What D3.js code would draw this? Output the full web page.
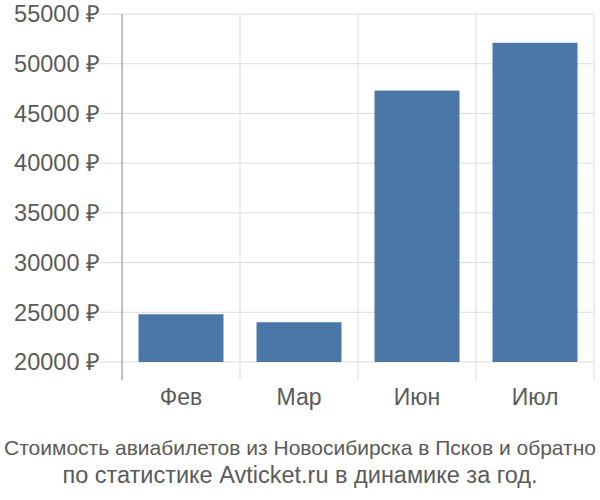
<!DOCTYPE html>
<html>
<head>
<meta charset="utf-8">
<script src="https://cdn.jsdelivr.net/npm/d3@7"></script>
<style>
  body { margin: 0; background: #fff; }
  text { font-family: "Liberation Sans", Arial, sans-serif; fill: #5a5a5a; }
</style>
</head>
<body>
<div id="chart"></div>
<script>
// price per month, rubles
var months = ["Фев", "Мар", "Июн", "Июл"];
var prices = [24800, 24000, 47300, 52100];
var yTicks = [20000, 25000, 30000, 35000, 40000, 45000, 50000, 55000];
var titleLines = [
  "Стоимость авиабилетов из Новосибирска в Псков и обратно",
  "по статистике Avticket.ru в динамике за год."
];

var width = 600, height = 500;
var margin = { top: 14, right: 6, bottom: 138, left: 122 };

var svg = d3.select("#chart")
  .append("svg")
  .attr("width", width)
  .attr("height", height);

var x = d3.scaleBand()
  .domain(months)
  .range([margin.left, width - margin.right])
  .paddingInner(0.28)
  .paddingOuter(0.14);

var y = d3.scaleLinear()
  .domain([20000, 55000])
  .range([height - margin.bottom, margin.top]);

// band edges for the vertical grid
var bandEdge = d3.scaleLinear()
  .domain([0, months.length])
  .range([margin.left, width - margin.right]);

// horizontal grid + tick labels
svg.selectAll(".hgrid")
  .data(yTicks)
  .enter()
  .append("line")
  .attr("x1", margin.left - 22)
  .attr("x2", width - margin.right)
  .attr("y1", function(d) { return y(d); })
  .attr("y2", function(d) { return y(d); })
  .attr("stroke", "#ddd")
  .attr("stroke-width", 1);

svg.selectAll(".ylab")
  .data(yTicks)
  .enter()
  .append("text")
  .attr("x", margin.left - 22)
  .attr("y", function(d) { return y(d); })
  .attr("dy", "0.35em")
  .attr("text-anchor", "end")
  .attr("font-size", "23.5px")
  .text(function(d) { return d + " ₽"; });

svg.selectAll(".vgrid")
  .data(d3.range(1, months.length + 1))
  .enter()
  .append("line")
  .attr("x1", function(d) { return bandEdge(d); })
  .attr("x2", function(d) { return bandEdge(d); })
  .attr("y1", margin.top)
  .attr("y2", height - margin.bottom + 18)
  .attr("stroke", "#ddd")
  .attr("stroke-width", 1);

// y axis line
svg.append("line")
  .attr("x1", margin.left)
  .attr("x2", margin.left)
  .attr("y1", margin.top)
  .attr("y2", height - margin.bottom + 18)
  .attr("stroke", "#aaa")
  .attr("stroke-width", 1.5);

// bars
svg.selectAll(".bar")
  .data(prices)
  .enter()
  .append("rect")
  .attr("x", function(d, i) { return x(months[i]); })
  .attr("width", x.bandwidth())
  .attr("y", function(d) { return y(d); })
  .attr("height", function(d) { return y(20000) - y(d); })
  .attr("fill", "#4a77a7");

// month labels
svg.selectAll(".xlab")
  .data(months)
  .enter()
  .append("text")
  .attr("x", function(d) { return x(d) + x.bandwidth() / 2; })
  .attr("y", 405)
  .attr("text-anchor", "middle")
  .attr("font-size", "23px")
  .text(function(d) { return d; });

// title; first line is smaller so it fits the page
svg.selectAll(".title")
  .data(titleLines)
  .enter()
  .append("text")
  .attr("x", width / 2)
  .attr("y", function(d, i) { return 455 + i * 27.5; })
  .attr("text-anchor", "middle")
  .attr("font-size", function(d, i) { return i === 0 ? "21px" : "23.5px"; })
  .text(function(d) { return d; });
</script>
</body>
</html>
